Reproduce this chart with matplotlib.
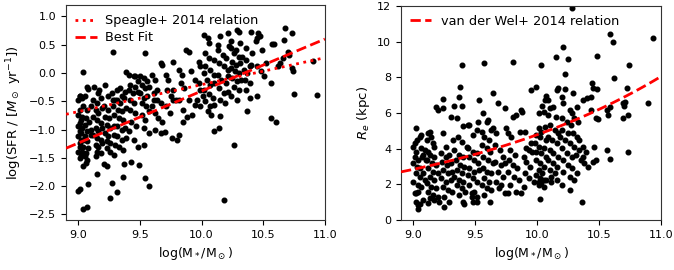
import numpy as np
import matplotlib
matplotlib.use("Agg")
import matplotlib.pyplot as plt

# left panel: (log M*, log SFR)
sfr_points = [
    (9.01,-0.41),(9.00,-0.47),(9.01,-0.65),(9.00,-0.74),(9.02,-0.83),(9.00,-0.94),(9.01,-1.03),(9.00,-1.12),
    (9.02,-1.18),(9.01,-1.30),(9.00,-1.39),(9.02,-1.47),(9.01,-1.50),(9.01,-2.05),(9.00,-2.08),
    (9.04,0.02),(9.01,-0.41),(9.03,-0.44),(9.05,-0.41),(9.07,-0.24),(9.08,-0.28),(9.04,-0.59),(9.07,-0.65),
    (9.10,-0.59),(9.03,-0.77),(9.06,-0.80),(9.01,-0.89),(9.05,-0.92),(9.09,-0.86),(9.03,-0.97),(9.07,-1.03),
    (9.10,-1.00),(9.02,-1.06),(9.05,-1.12),(9.10,-1.09),(9.04,-1.18),(9.07,-1.21),(9.01,-1.24),(9.04,-1.30),
    (9.08,-1.33),(9.03,-1.39),(9.06,-1.42),(9.05,-1.47),(9.07,-1.53),(9.04,-1.65),(9.06,-1.59),(9.08,-1.96),
    (9.04,-2.41),(9.07,-2.37),
    (9.12,-0.47),(9.15,-0.53),(9.18,-0.44),(9.14,-0.65),(9.16,-0.71),(9.19,-0.62),(9.12,-0.77),(9.15,-0.83),
    (9.18,-0.89),(9.14,-0.97),(9.16,-1.03),(9.19,-0.97),(9.12,-1.09),(9.15,-1.15),(9.18,-1.18),(9.14,-1.27),
    (9.16,-1.30),(9.19,-1.24),(9.15,-1.39),(9.18,-1.42),(9.14,-1.47),(9.15,-1.78),(9.17,-0.30),(9.16,-0.36),
    (9.13,-0.24),
    (9.22,-0.21),(9.24,-0.41),(9.27,-0.36),(9.21,-0.59),(9.24,-0.65),(9.28,-0.59),(9.22,-0.77),(9.25,-0.80),
    (9.29,-0.74),(9.23,-0.92),(9.26,-0.97),(9.29,-0.94),(9.22,-1.06),(9.24,-1.12),(9.29,-1.09),(9.23,-1.21),
    (9.26,-1.24),(9.30,-1.27),(9.23,-1.33),(9.26,-1.39),(9.29,-1.45),(9.21,-1.61),(9.23,-1.65),(9.27,-1.95),
    (9.26,-2.21),(9.28,0.37),(9.30,-0.47),(9.28,-0.47),
    (9.31,-0.30),(9.34,-0.27),(9.38,-0.33),(9.31,-0.47),(9.34,-0.53),(9.37,-0.44),(9.32,-0.65),(9.35,-0.68),
    (9.39,-0.62),(9.33,-0.80),(9.36,-0.83),(9.31,-0.94),(9.35,-1.00),(9.38,-0.97),(9.31,-1.12),(9.35,-1.18),
    (9.39,-1.15),(9.33,-1.30),(9.36,-1.36),(9.37,-1.61),(9.36,-1.83),(9.31,-2.11),(9.39,0.01),(9.35,-0.41),
    (9.41,-0.03),(9.45,-0.06),(9.48,-0.15),(9.42,-0.21),(9.46,-0.24),(9.41,-0.30),(9.44,-0.36),(9.48,-0.33),
    (9.42,-0.47),(9.45,-0.53),(9.42,-0.65),(9.46,-0.71),(9.43,-0.86),(9.47,-0.94),(9.41,-1.03),(9.45,-1.18),
    (9.48,-1.30),(9.43,-1.57),(9.49,-1.62),(9.46,-0.05),
    (9.50,-0.06),(9.53,-0.09),(9.56,-0.15),(9.52,-0.21),(9.54,-0.27),(9.57,-0.24),(9.50,-0.36),(9.53,-0.44),
    (9.56,-0.41),(9.52,-0.53),(9.55,-0.59),(9.57,-0.68),(9.52,-0.74),(9.54,-0.83),(9.53,-0.97),(9.57,-1.06),
    (9.53,-1.27),(9.54,-1.85),(9.57,-1.99),(9.54,0.35),
    (9.60,-0.03),(9.62,-0.12),(9.61,-0.36),(9.64,-0.47),(9.67,-0.53),(9.60,-0.59),(9.62,-0.71),(9.65,-0.80),
    (9.68,-0.86),(9.62,-1.00),(9.67,-1.06),(9.67,0.17),(9.68,0.15),(9.64,-0.30),(9.61,-0.47),
    (9.71,-0.03),(9.73,-0.12),(9.77,0.20),(9.72,-0.30),(9.75,-0.41),(9.77,-0.47),(9.71,-0.59),(9.74,-0.71),
    (9.79,-0.47),(9.70,-1.05),(9.76,-1.15),(9.80,-1.18),(9.77,-0.30),
    (9.82,0.06),(9.84,-0.03),(9.87,0.41),(9.90,0.38),(9.83,-0.18),(9.86,-0.27),(9.82,-0.47),(9.85,-0.65),
    (9.88,-0.77),(9.85,-0.87),(9.90,-0.47),(9.91,0.03),(9.82,-1.10),
    (9.95,-0.12),(9.98,-0.18),(9.99,-0.30),(9.96,-0.47),(10.01,-0.41),(10.02,0.68),(9.98,0.20),(9.99,0.12),
    (9.92,-0.74),(9.95,-0.56),(9.99,-0.59),
    (10.05,0.62),(10.03,0.35),(10.06,0.26),(10.10,0.23),(10.03,0.12),(10.07,0.06),(10.10,-0.03),(10.04,-0.12),
    (10.07,-0.21),(10.10,-0.18),(10.02,-0.30),(10.06,-0.38),(10.09,-0.44),(10.03,-0.50),(10.07,-0.59),
    (10.10,-0.56),(10.05,-0.68),(10.08,-0.74),(10.10,-1.03),(10.02,0.0),(10.06,0.53),
    (10.15,0.65),(10.21,0.71),(10.13,0.41),(10.17,0.32),(10.20,0.26),(10.14,0.17),(10.18,0.12),(10.21,0.06),
    (10.13,-0.03),(10.16,-0.12),(10.20,-0.18),(10.14,-0.27),(10.18,-0.36),(10.21,-0.33),(10.15,-0.47),
    (10.19,-0.53),(10.14,-0.97),(10.15,-0.76),(10.18,-2.24),(10.13,0.50),(10.22,0.47),(10.21,-0.06),
    (10.29,0.76),(10.30,0.73),(10.24,0.44),(10.26,0.35),(10.30,0.29),(10.25,0.20),(10.28,0.15),(10.31,0.17),
    (10.24,0.09),(10.27,0.03),(10.30,0.0),(10.25,-0.09),(10.29,-0.15),(10.32,-0.12),(10.26,-0.24),(10.30,-0.30),
    (10.26,-1.27),(10.24,0.56),(10.31,0.53),(10.28,0.41),(10.24,-0.41),(10.29,-0.47),
    (10.33,0.29),(10.36,0.23),(10.39,0.12),(10.34,0.06),(10.37,0.0),(10.40,0.15),(10.35,-0.12),(10.39,-0.18),
    (10.36,-0.30),(10.37,-0.67),(10.39,-0.44),(10.40,0.73),(10.36,0.44),(10.41,0.35),
    (10.45,0.62),(10.44,0.56),(10.46,0.71),(10.47,0.66),(10.49,0.41),(10.45,0.12),(10.48,0.03),(10.52,0.17),
    (10.45,-0.40),(10.51,-0.06),
    (10.57,0.51),(10.59,0.51),(10.56,-0.18),(10.56,-0.80),(10.60,-0.87),(10.62,0.12),(10.64,0.17),(10.66,0.26),
    (10.68,0.79),(10.73,0.71),(10.67,0.59),(10.70,0.38),(10.71,0.32),(10.73,0.09),(10.74,0.03),(10.90,0.22),
    (10.75,-0.37),(10.94,-0.39),
]

# right panel: (log M*, R_e in kpc)
re_points = [
    (9.02,5.14),(9.01,4.30),(9.00,4.11),(9.02,3.83),(9.01,3.55),(9.04,3.36),(9.00,3.18),(9.03,2.99),
    (9.05,4.67),(9.06,4.77),(9.00,2.15),(9.01,1.50),(9.04,1.59),(9.02,1.03),(9.04,0.84),(9.04,0.60),
    (9.05,0.90),(9.08,1.12),(9.06,1.87),(9.09,2.24),(9.08,2.62),(9.05,2.43),(9.08,3.64),(9.09,3.93),
    (9.06,4.02),(9.10,3.36),(9.05,2.90),(9.03,4.49),(9.07,3.55),(9.04,1.96),(9.02,2.62),(9.02,1.53),
    (9.12,4.86),(9.13,4.95),(9.14,4.67),(9.11,4.49),(9.16,4.30),(9.17,4.11),(9.12,3.83),(9.13,3.64),
    (9.17,3.55),(9.11,3.36),(9.15,3.18),(9.18,3.08),(9.12,2.90),(9.16,2.71),(9.20,2.62),(9.13,2.43),
    (9.17,2.24),(9.11,2.06),(9.14,1.87),(9.18,1.78),(9.12,1.59),(9.16,1.40),(9.20,1.31),(9.13,1.21),
    (9.17,1.12),(9.12,0.93),(9.21,1.03),(9.18,6.36),(9.20,6.17),
    (9.24,6.77),(9.24,6.26),(9.24,4.86),(9.22,3.74),(9.26,3.55),(9.29,3.64),(9.23,3.27),(9.27,3.08),
    (9.30,3.18),(9.24,2.80),(9.28,2.62),(9.31,2.71),(9.22,2.34),(9.26,2.15),(9.30,2.24),(9.24,1.87),
    (9.28,1.68),(9.31,1.59),(9.25,1.31),(9.29,1.03),(9.25,0.75),(9.30,5.79),(9.32,4.49),(9.26,4.11),
    (9.33,6.39),(9.35,5.70),(9.37,6.92),(9.38,7.44),(9.39,8.69),(9.39,6.39),(9.40,5.27),(9.36,4.67),
    (9.39,4.39),(9.33,3.93),(9.37,3.64),(9.40,3.55),(9.34,3.36),(9.38,3.08),(9.41,2.99),(9.35,2.80),
    (9.39,2.62),(9.33,2.43),(9.37,2.24),(9.40,2.15),(9.35,1.96),(9.39,1.78),(9.42,1.59),(9.37,1.40),
    (9.40,1.03),(9.41,0.90),(9.43,4.11),
    (9.44,5.33),(9.45,5.33),(9.48,4.77),(9.51,5.05),(9.52,5.51),(9.53,6.73),(9.44,4.02),(9.48,3.83),
    (9.51,3.74),(9.45,3.55),(9.49,3.36),(9.52,3.18),(9.45,2.90),(9.49,2.71),(9.53,2.80),(9.44,2.52),
    (9.48,2.34),(9.51,2.15),(9.45,1.96),(9.49,1.59),(9.47,1.50),(9.51,1.31),(9.48,1.03),(9.51,1.03),
    (9.47,1.31),
    (9.57,8.79),(9.56,5.98),(9.59,5.51),(9.55,4.95),(9.57,4.67),(9.61,4.49),(9.63,5.05),(9.55,4.21),
    (9.59,4.02),(9.62,3.83),(9.56,3.55),(9.60,3.36),(9.64,3.18),(9.56,2.90),(9.59,2.71),(9.63,2.62),
    (9.57,2.34),(9.61,2.15),(9.55,1.96),(9.59,1.78),(9.63,1.68),(9.62,1.03),(9.57,1.40),(9.60,5.61),
    (9.64,7.10),(9.68,6.54),(9.67,4.86),(9.66,4.21),(9.70,3.93),(9.72,3.55),(9.66,3.27),(9.71,3.08),
    (9.74,3.18),(9.68,2.71),(9.72,2.43),(9.67,2.15),(9.71,1.96),(9.74,1.50),(9.64,5.14),(9.74,6.26),
    (9.69,1.78),
    (9.75,5.14),(9.80,8.88),(9.80,5.79),(9.83,5.89),(9.79,4.67),(9.76,4.86),(9.78,3.93),(9.82,3.64),
    (9.77,3.36),(9.80,3.08),(9.84,2.90),(9.76,2.71),(9.81,2.43),(9.85,2.24),(9.78,1.96),(9.83,1.59),
    (9.76,1.50),(9.87,1.50),(9.86,4.95),(9.87,6.17),(9.88,6.07),
    (9.90,4.95),(9.95,4.30),(9.93,3.93),(9.96,3.83),(9.89,3.55),(9.91,3.27),(9.94,2.99),(9.90,2.62),
    (9.93,2.34),(9.97,2.15),(9.89,1.87),(9.95,7.29),(9.91,4.02),
    (9.99,7.48),(10.01,5.98),(10.03,8.69),(10.04,6.39),(10.05,6.07),(10.01,5.14),(10.03,4.95),(10.06,5.23),
    (9.99,4.77),(10.02,4.67),(10.07,4.49),(9.98,4.30),(10.01,4.11),(10.05,4.02),(9.99,3.83),(10.03,3.74),
    (10.07,3.55),(9.99,3.36),(10.02,3.18),(10.05,2.99),(10.01,2.80),(10.04,2.62),(9.99,2.52),(10.02,2.34),
    (10.05,2.24),(10.01,2.15),(10.03,2.06),(10.01,1.96),(10.05,1.87),(10.07,2.24),(10.02,1.16),(10.07,6.95),
    (10.06,6.73),
    (10.10,6.26),(10.13,6.36),(10.16,7.29),(10.17,7.38),(10.09,5.89),(10.15,5.79),(10.10,5.33),(10.14,5.05),
    (10.17,4.86),(10.09,4.67),(10.12,4.49),(10.16,4.30),(10.10,3.93),(10.13,3.74),(10.17,3.55),(10.09,3.36),
    (10.13,3.18),(10.16,2.99),(10.10,2.80),(10.14,2.62),(10.11,2.43),(10.16,2.24),(10.11,2.15),(10.15,9.16),
    (10.09,6.73),
    (10.21,9.72),(10.25,9.01),(10.22,8.19),(10.20,6.92),(10.21,6.54),(10.26,6.17),(10.28,5.98),(10.20,5.70),
    (10.24,5.51),(10.27,5.33),(10.20,5.05),(10.25,4.86),(10.18,4.67),(10.22,4.49),(10.26,4.30),(10.20,4.02),
    (10.24,3.74),(10.28,3.55),(10.21,3.36),(10.25,3.08),(10.28,2.90),(10.21,2.71),(10.26,2.43),(10.20,1.96),
    (10.26,1.68),(10.28,11.90),(10.22,7.33),
    (10.29,7.14),(10.32,6.36),(10.30,5.70),(10.33,5.51),(10.29,4.86),(10.32,4.67),(10.34,4.49),(10.30,4.11),
    (10.34,3.93),(10.37,4.11),(10.31,3.64),(10.35,3.36),(10.38,3.18),(10.32,2.62),(10.30,2.24),(10.36,1.03),
    (10.39,3.83),(10.37,3.55),(10.37,6.73),
    (10.40,6.82),(10.43,6.92),(10.44,7.66),(10.45,7.38),(10.48,9.20),(10.43,6.17),(10.47,5.70),(10.49,5.64),
    (10.41,2.99),(10.45,3.27),(10.47,3.36),(10.46,4.11),(10.48,7.33),
    (10.56,6.17),(10.59,6.36),(10.57,5.89),(10.59,10.41),(10.61,10.00),(10.62,7.94),(10.56,3.93),(10.59,3.40),
    (10.69,6.54),(10.70,6.39),(10.69,5.70),(10.72,7.38),
    (10.74,8.69),(10.73,5.89),(10.73,3.83),(10.89,6.58),(10.93,10.19),(10.71,6.64),
]

# reference relations (endpoints)
speagle_ends = [-0.73, 0.27]
bestfit_ends = [-1.33, 0.60]
vdw_logre_at_11 = 0.906
vdw_slope = 0.226

mass_l, log_sfr = np.array(sfr_points).T
mass_r, re_kpc = np.array(re_points).T

fig = plt.figure(figsize=(6.74, 2.70), dpi=100)
ax1 = fig.add_axes([0.098, 0.185, 0.384, 0.796])
ax2 = fig.add_axes([0.595, 0.185, 0.386, 0.793])

xl = np.array([8.9, 11.0])
ax1.scatter(mass_l, log_sfr, s=11, c='black', zorder=2)
ax1.plot(xl, speagle_ends, ':', color='red', lw=2, label='Speagle+ 2014 relation', zorder=3)
ax1.plot(xl, bestfit_ends, '--', color='red', lw=2, label='Best Fit', zorder=3)
ax1.set_xlim(8.9, 11.0)
ax1.set_ylim(-2.6, 1.2)
ax1.set_xticks([9.0, 9.5, 10.0, 10.5, 11.0])
ax1.set_yticks([-2.5, -2.0, -1.5, -1.0, -0.5, 0.0, 0.5, 1.0])
ax1.set_xlabel(r'log(M$_*$/M$_\odot$)', fontsize=9)
ax1.set_ylabel(r'log(SFR / [$M_\odot$ yr$^{-1}$])', fontsize=9.5)
ax1.legend(loc='upper left', frameon=False, fontsize=9.3, handlelength=1.7,
           handletextpad=0.6, borderaxespad=0.3, labelspacing=0.3)

xr = np.linspace(8.9, 11.0, 100)
ax2.scatter(mass_r, re_kpc, s=11, c='black', zorder=2)
ax2.plot(xr, 10 ** (vdw_logre_at_11 + vdw_slope * (xr - 11.0)), '--', color='red', lw=2,
         label='van der Wel+ 2014 relation', zorder=3)
ax2.set_xlim(8.9, 11.0)
ax2.set_ylim(0, 12)
ax2.set_xticks([9.0, 9.5, 10.0, 10.5, 11.0])
ax2.set_yticks([0, 2, 4, 6, 8, 10, 12])
ax2.set_xlabel(r'log(M$_*$/M$_\odot$)', fontsize=9)
ax2.set_ylabel(r'$R_e$ (kpc)', fontsize=9.5)
ax2.legend(loc='upper left', frameon=False, fontsize=9.3, handlelength=1.6,
           handletextpad=0.8, borderaxespad=0.3)

for ax in (ax1, ax2):
    ax.tick_params(labelsize=8, length=3.5)
    for sp in ax.spines.values():
        sp.set_color('#333333')

fig.savefig('out.png', dpi=100)
